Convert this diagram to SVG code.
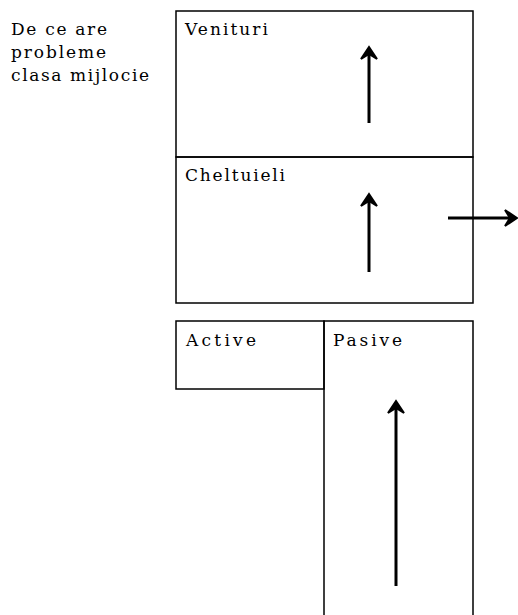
<svg xmlns="http://www.w3.org/2000/svg" width="518" height="615" viewBox="0 0 518 615">
<style>
.box{fill:none;stroke:#000;stroke-width:1.5}
.lbl{font-family:"DejaVu Serif","Liberation Serif",serif;font-size:17px;fill:#000}
.arr{fill:none;stroke:#000;stroke-width:3}
.head{fill:#000;stroke:#000;stroke-width:2;stroke-linejoin:miter}
</style>
<rect width="518" height="615" fill="#fff"/>
<g id="title">
<text class="lbl" x="11" y="35" textLength="96" lengthAdjust="spacing">De ce are</text>
<text class="lbl" x="11" y="58" textLength="95" lengthAdjust="spacing">probleme</text>
<text class="lbl" x="11" y="81" textLength="138" lengthAdjust="spacing">clasa mijlocie</text>
</g>
<g id="venituri">
<rect class="box" x="176" y="11" width="297" height="146"/>
<text class="lbl" x="185" y="35" textLength="83" lengthAdjust="spacing">Venituri</text>
</g>
<g id="cheltuieli">
<rect class="box" x="176" y="157" width="297" height="146"/>
<text class="lbl" x="185" y="181" textLength="100" lengthAdjust="spacing">Cheltuieli</text>
</g>
<g id="active">
<rect class="box" x="176" y="321" width="148" height="68"/>
<text class="lbl" x="186" y="346" textLength="70" lengthAdjust="spacing">Active</text>
</g>
<g id="pasive">
<path class="box" d="M324,620 V321 H473 V620"/>
<text class="lbl" x="333" y="346" textLength="69" lengthAdjust="spacing">Pasive</text>
</g>
<g id="connectors">
<line class="arr" x1="369" y1="123" x2="369" y2="54"/>
<polygon class="head" points="369,47 377,59 369,54 361,59"/>
<line class="arr" x1="369" y1="272" x2="369" y2="201"/>
<polygon class="head" points="369,194 377,206 369,201 361,206"/>
<line class="arr" x1="448" y1="218" x2="510" y2="218"/>
<polygon class="head" points="517,218 505,210 510,218 505,226"/>
<line class="arr" x1="396" y1="586" x2="396" y2="408"/>
<polygon class="head" points="396,401 404,413 396,408 388,413"/>
</g>
</svg>
